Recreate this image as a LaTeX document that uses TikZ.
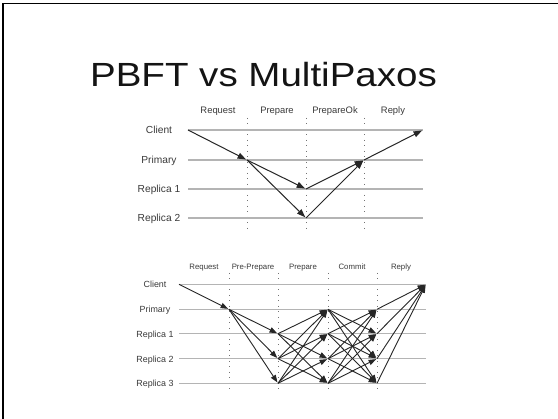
\documentclass[tikz,border=0pt]{standalone}
\usepackage{fontspec}
\setmainfont{Liberation Sans}
\usetikzlibrary{arrows.meta}
\definecolor{lanegray}{HTML}{B4B4B4}
\definecolor{txtgray}{HTML}{3A3A3A}
\begin{document}
\begin{tikzpicture}[x=1pt,y=-1pt,
  lane/.style={draw=lanegray, line width=1.3pt},
  phase/.style={draw=black!55, line width=0.9pt, dash pattern=on 0.9pt off 4.6pt},
  msgA/.style={draw=black!85, line width=1pt, -{Triangle[length=8.5pt,width=6pt]}, shorten >=1pt},
  msgB/.style={draw=black!85, line width=0.9pt, -{Triangle[length=7.5pt,width=5.5pt]}, shorten >=1pt},
  toprow/.style={text=txtgray, font=\fontsize{10.2}{12}\selectfont, inner sep=0pt, anchor=base},
  topcol/.style={text=txtgray, font=\fontsize{9.4}{11}\selectfont, inner sep=0pt, anchor=base},
  botrow/.style={text=txtgray, font=\fontsize{8.9}{11}\selectfont, inner sep=0pt, anchor=base},
  botcol/.style={text=txtgray, font=\fontsize{7.8}{10}\selectfont, inner sep=0pt, anchor=base},
  titlestyle/.style={text=black!92, font=\fontsize{33.5}{40}\selectfont, inner sep=0pt, anchor=base}
]
\path[use as bounding box, fill=white] (0,0) rectangle (558,419);
\draw[line width=1.8pt] (3.2,419) -- (3.2,3.5) -- (558,3.5);

\node[titlestyle] (title) at (263.5,87) {\scalebox{1.15}[1]{PBFT vs MultiPaxos}};

% ---------- top diagram (MultiPaxos) ----------
\foreach \x in {247,306,364} \draw[phase] (\x,118) -- (\x,230);
\foreach \n/\y/\t in {C/130/Client, P/160/Primary, R1/189/Replica 1, R2/218/Replica 2} {
  \node[toprow] (tl\n) at (159,\y+4) {\t};
  \foreach \i/\x in {0/188,1/247,2/306,3/364,4/423} \coordinate (t\n-\i) at (\x,\y);
  \draw[lane] (t\n-0) -- (t\n-4);
}
\foreach \k/\x/\t in {a/218/Request, b/277/Prepare, c/335/PrepareOk, d/393/Reply}
  \node[topcol] (tc\k) at (\x,114) {\t};

\draw[msgA] (tC-0) -- (tP-1);
\draw[msgA] (tP-1) -- (tR1-2);
\draw[msgA] (tP-1) -- (tR2-2);
\draw[msgA] (tR1-2) -- (tP-3);
\draw[msgA] (tR2-2) -- (tP-3);
\draw[msgA] (tP-3) -- (tC-4);

% ---------- bottom diagram (PBFT) ----------
\foreach \x in {229,278,328,377} \draw[phase] (\x,273) -- (\x,390);
\foreach \n/\y/\t in {C/284.3/Client, P/309.3/Primary, R1/333.7/Replica 1, R2/358.7/Replica 2, R3/383.3/Replica 3} {
  \node[botrow] (bl\n) at (155,\y+3.4) {\t};
  \foreach \i/\x in {0/179,1/229,2/278,3/328,4/377,5/426} \coordinate (b\n-\i) at (\x,\y);
  \draw[lane] (b\n-0) -- (b\n-5);
}
\foreach \k/\x/\t in {a/204/Request, b/253/Pre-Prepare, c/303/Prepare, d/352/Commit, e/401/Reply}
  \node[botcol] (bc\k) at (\x,270) {\t};

\draw[msgB] (bC-0) -- (bP-1);
\foreach \j in {R1,R2,R3} \draw[msgB] (bP-1) -- (b\j-2);
\foreach \i in {R1,R2,R3} {
  \foreach \j in {P,R1,R2,R3} {
    \ifx\i\j\else \draw[msgB] (b\i-2) -- (b\j-3);\fi
  }
}
\foreach \i in {P,R1,R2,R3} {
  \foreach \j in {P,R1,R2,R3} {
    \ifx\i\j\else \draw[msgB] (b\i-3) -- (b\j-4);\fi
  }
}
\foreach \i in {P,R1,R2,R3} \draw[msgB] (b\i-4) -- (bC-5);
\end{tikzpicture}
\end{document}
